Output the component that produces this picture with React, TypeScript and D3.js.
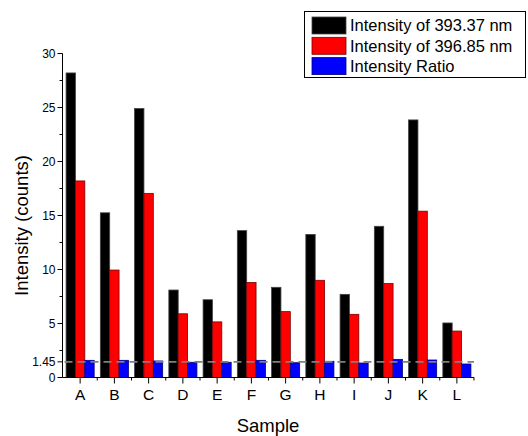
import React from "react";
import * as d3 from "d3";

const categories = ["A", "B", "C", "D", "E", "F", "G", "H", "I", "J", "K", "L"];
const seriesNames = ["Intensity of 393.37 nm", "Intensity of 396.85 nm", "Intensity Ratio"];
const intensity393 = [28.2, 15.25, 24.9, 8.1, 7.2, 13.6, 8.35, 13.25, 7.7, 14.0, 23.85, 5.05];
const intensity396 = [18.2, 9.95, 17.05, 5.9, 5.15, 8.8, 6.1, 9.0, 5.85, 8.7, 15.4, 4.3];
const intensityRatio = [1.59, 1.59, 1.53, 1.41, 1.41, 1.59, 1.37, 1.5, 1.34, 1.68, 1.62, 1.25];
const yTicks = [0, 1.45, 5, 10, 15, 20, 25, 30];
const yMinorTicks = [2.5, 7.5, 12.5, 17.5, 22.5, 27.5];
const refLine = 1.45;
const colors = ["#000000", "#ff0000", "#0000ff"];
const strokes = ["#444444", "#7a0000", "#00007a"];

const W = 528;
const H = 436;
const FONT = "Arial, 'Liberation Sans', sans-serif";

export default function App() {
  const x0 = d3.scaleBand<string>().domain(categories).range([63, 474]).padding(0);
  const bw = x0.bandwidth();
  const groupW = bw * 0.82;
  const x1 = d3.scaleBand<string>().domain(seriesNames).range([0, groupW]).padding(0);
  const y = d3.scaleLinear().domain([0, 30]).range([377.5, 53.5]);
  const data = [intensity393, intensity396, intensityRatio];

  const axisX = 62.5;
  const axisY = y(0);

  return (
    <svg width={W} height={H} style={{ position: "absolute", left: 0, top: 0, background: "#fff" }} fontFamily={FONT}>
      {/* bars */}
      {categories.map((c, i) => (
        <g key={c} transform={`translate(${(x0(c) as number) + (bw - groupW) / 2},0)`}>
          {seriesNames.map((s, j) => {
            const v = data[j][i];
            return (
              <rect
                key={s}
                x={x1(s) as number}
                y={y(v)}
                width={x1.bandwidth()}
                height={axisY - y(v)}
                fill={colors[j]}
                stroke={strokes[j]}
                strokeWidth={0.8}
              />
            );
          })}
        </g>
      ))}
      {/* reference dashed line */}
      <line x1={axisX + 2} x2={474} y1={y(refLine)} y2={y(refLine)} stroke="#808080" strokeWidth={1.6} strokeDasharray="8,5" />
      {/* y axis */}
      <line x1={axisX} x2={axisX} y1={y(30)} y2={axisY} stroke="#000" strokeWidth={1} />
      {yTicks.map((t) => (
        <g key={t}>
          <line x1={axisX - 5} x2={axisX} y1={y(t)} y2={y(t)} stroke="#000" strokeWidth={1} />
          <text x={axisX - 7} y={y(t)} dy="0.35em" textAnchor="end" fontSize={12}>
            {t}
          </text>
        </g>
      ))}
      {yMinorTicks.map((t) => (
        <line key={t} x1={axisX - 3} x2={axisX} y1={y(t)} y2={y(t)} stroke="#000" strokeWidth={1} />
      ))}
      {/* x axis */}
      <line x1={axisX} x2={474} y1={axisY} y2={axisY} stroke="#000" strokeWidth={1} />
      {categories.map((c) => {
        const cx = (x0(c) as number) + bw / 2;
        return (
          <g key={c}>
            <line x1={cx} x2={cx} y1={axisY} y2={axisY + 6} stroke="#000" strokeWidth={1} />
            <line x1={(x0(c) as number) + bw} x2={(x0(c) as number) + bw} y1={axisY} y2={axisY + 3} stroke="#000" strokeWidth={1} />
            <text x={cx} y={axisY + 22} textAnchor="middle" fontSize={15.5}>
              {c}
            </text>
          </g>
        );
      })}
      {/* axis titles */}
      <text x={268} y={432} textAnchor="middle" fontSize={18.5}>
        Sample
      </text>
      <text transform={`translate(28,${(y(0) + y(30)) / 2 + 10}) rotate(-90)`} textAnchor="middle" fontSize={18.5}>
        Intensity (counts)
      </text>
      {/* legend */}
      <rect x={304.5} y={11.5} width={221} height={66} fill="#fff" stroke="#000" strokeWidth={1} />
      {seriesNames.map((s, j) => (
        <g key={s} transform={`translate(312,${17 + j * 20.3})`}>
          <rect x={0} y={0} width={34} height={17} fill={colors[j]} stroke={strokes[j]} strokeWidth={0.8} />
          <text x={38} y={8.5} dy="0.35em" fontSize={16.5}>
            {s}
          </text>
        </g>
      ))}
    </svg>
  );
}
